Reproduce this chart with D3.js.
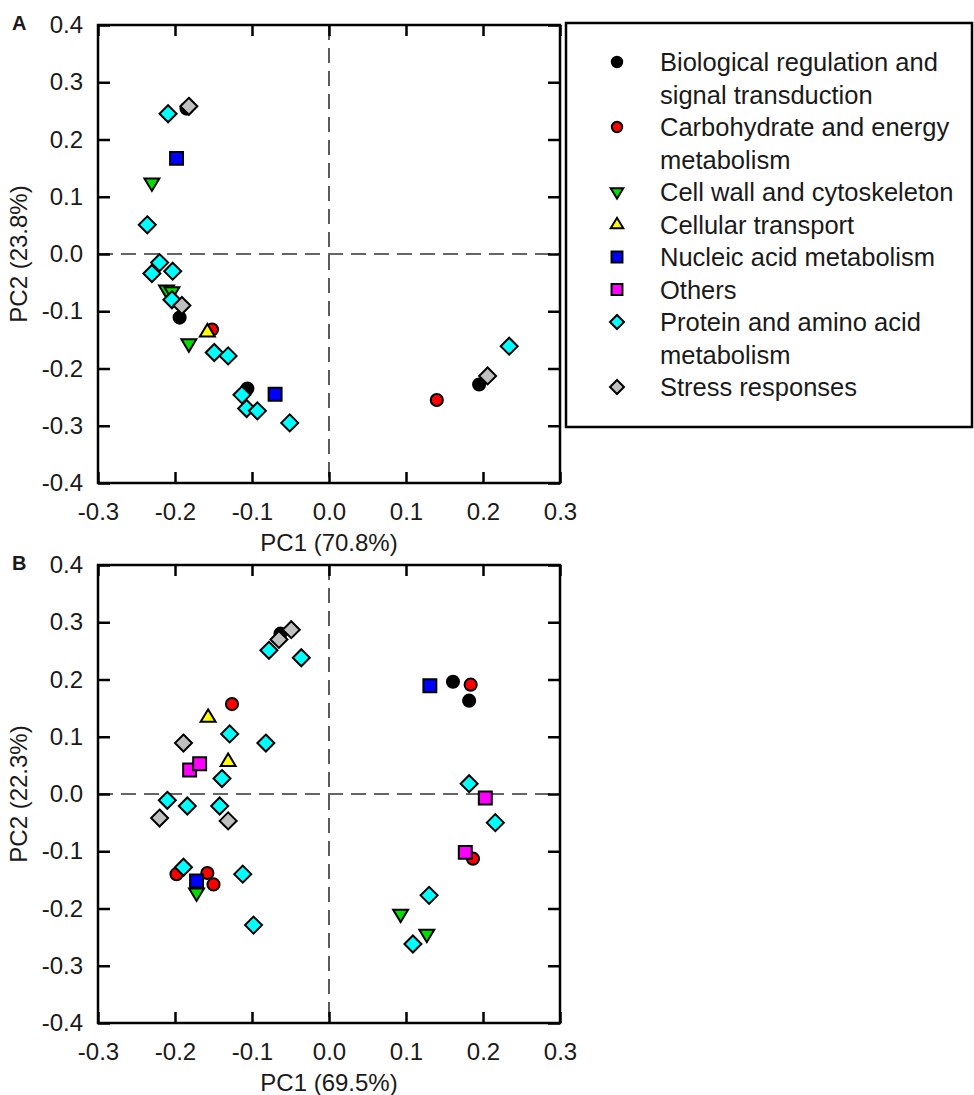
<!DOCTYPE html>
<html><head><meta charset="utf-8">
<script src="https://cdn.jsdelivr.net/npm/d3@7"></script>
<style>
body{margin:0;background:#fff;}
text{font-family:"Liberation Sans",Arial,sans-serif;fill:#1a1a1a;}
</style></head>
<body><svg id="c" width="974" height="1095"></svg>
<script>
// ---------- DATA ----------
const categories = ["Biological regulation and signal transduction","Carbohydrate and energy metabolism","Cell wall and cytoskeleton","Cellular transport","Nucleic acid metabolism","Others","Protein and amino acid metabolism","Stress responses"];
const legendLines = [["Biological regulation and","signal transduction"],["Carbohydrate and energy","metabolism"],["Cell wall and cytoskeleton"],["Cellular transport"],["Nucleic acid metabolism"],["Others"],["Protein and amino acid","metabolism"],["Stress responses"]];
const shapes = ["circle","circle","triDown","triUp","square","square","diamond","diamond"];
const colors = ["#000000","#ff0000","#00e000","#ffff00","#0000ff","#ff00ff","#00ffff","#c0c0c0"];
const tickValues = [-0.4,-0.3,-0.2,-0.1,0.0,0.1,0.2,0.3,0.4];
const xTickValues = [-0.3,-0.2,-0.1,0.0,0.1,0.2,0.3];

// Panel A
const aBio = [[-0.185,0.254],[-0.194,-0.111],[-0.106,-0.235],[0.195,-0.228]];
const aCarb = [[-0.152,-0.132],[0.140,-0.255]];
const aWall = [[-0.230,0.124],[-0.211,-0.063],[-0.204,-0.066],[-0.182,-0.157]];
const aTrans = [[-0.158,-0.136]];
const aNuc = [[-0.198,0.167],[-0.070,-0.245]];
const aOth = [];
const aProt = [[-0.209,0.245],[-0.236,0.051],[-0.220,-0.015],[-0.230,-0.034],[-0.203,-0.030],[-0.204,-0.080],[-0.149,-0.172],[-0.131,-0.178],[-0.113,-0.246],[-0.107,-0.270],[-0.093,-0.274],[-0.051,-0.295],[0.234,-0.161]];
const aStress = [[-0.182,0.258],[-0.191,-0.090],[0.206,-0.213]];

// Panel B
const bBio = [[-0.063,0.280],[0.161,0.196],[0.182,0.163]];
const bCarb = [[-0.126,0.157],[-0.198,-0.140],[-0.158,-0.138],[-0.150,-0.158],[0.184,0.191],[0.187,-0.113]];
const bWall = [[-0.172,-0.173],[0.093,-0.210],[0.127,-0.245]];
const bTrans = [[-0.157,0.134],[-0.131,0.057]];
const bNuc = [[-0.172,-0.152],[0.131,0.189]];
const bOth = [[-0.181,0.042],[-0.168,0.053],[0.203,-0.007],[0.177,-0.102]];
const bProt = [[-0.078,0.251],[-0.036,0.238],[-0.129,0.105],[-0.082,0.089],[-0.139,0.027],[-0.210,-0.011],[-0.184,-0.021],[-0.142,-0.021],[-0.189,-0.128],[-0.112,-0.140],[-0.098,-0.229],[0.182,0.018],[0.216,-0.050],[0.130,-0.177],[0.109,-0.262]];
const bStress = [[-0.049,0.287],[-0.065,0.270],[-0.189,0.089],[-0.220,-0.042],[-0.131,-0.047]];

const panels = [
  {label:"A", top:25, xTitle:"PC1 (70.8%)", yTitle:"PC2 (23.8%)", series:[aBio,aCarb,aWall,aTrans,aNuc,aOth,aProt,aStress]},
  {label:"B", top:565, xTitle:"PC1 (69.5%)", yTitle:"PC2 (22.3%)", series:[bBio,bCarb,bWall,bTrans,bNuc,bOth,bProt,bStress]}
];

// ---------- DRAW ----------
const svg = d3.select("#c");
const left = 98, W = 462, H = 458;
const fmt = v => (v < 0 ? "-" : "") + Math.abs(v).toFixed(1);

function shapePath(shape, s){
  switch(shape){
    case "circle": return d3.symbol(d3.symbolCircle, Math.PI*s*s*0.55)();
    case "square": { const h=s*0.78; return `M${-h},${-h}H${h}V${h}H${-h}Z`; }
    case "diamond": return `M0,${-s}L${s},0L0,${s}L${-s},0Z`;
    case "triDown": { const w=s*0.9, t=s*0.55, b=s*0.95; return `M${-w},${-t}L${w},${-t}L0,${b}Z`; }
    case "triUp": { const w=s*0.9, t=s*0.55, b=s*0.95; return `M${-w},${t}L${w},${t}L0,${-b}Z`; }
  }
}

panels.forEach(p => {
  const x = d3.scaleLinear().domain([-0.3,0.3]).range([left,left+W]);
  const y = d3.scaleLinear().domain([-0.4,0.4]).range([p.top+H,p.top]);
  const g = svg.append("g");

  // dashed zero lines
  g.append("line").attr("x1",x(-0.3)).attr("x2",x(0.3)).attr("y1",y(0)).attr("y2",y(0))
    .attr("stroke","#333").attr("stroke-width",1.6).attr("stroke-dasharray","15,8");
  g.append("line").attr("x1",x(0)).attr("x2",x(0)).attr("y1",y(0.4)).attr("y2",y(-0.4))
    .attr("stroke","#333").attr("stroke-width",1.6).attr("stroke-dasharray","15,8");

  // axes with inward ticks
  const axL = d3.axisLeft(y).tickValues(tickValues).tickSize(-12).tickFormat(fmt).tickPadding(16);
  const axR = d3.axisRight(y).tickValues(tickValues).tickSize(-12).tickFormat("");
  const axB = d3.axisBottom(x).tickValues(xTickValues).tickSize(-11).tickFormat(fmt).tickPadding(20);
  const axT = d3.axisTop(x).tickValues(xTickValues).tickSize(-11).tickFormat("");
  const gl = g.append("g").attr("transform",`translate(${left},0)`).call(axL);
  const gr = g.append("g").attr("transform",`translate(${left+W},0)`).call(axR);
  const gb = g.append("g").attr("transform",`translate(0,${p.top+H})`).call(axB);
  const gt = g.append("g").attr("transform",`translate(0,${p.top})`).call(axT);
  [gl,gr,gb,gt].forEach(a=>{
    a.select(".domain").remove();
    a.selectAll(".tick line").attr("stroke","#000").attr("stroke-width",2.5);
    a.selectAll("text").attr("font-size",24).attr("fill","#1a1a1a").style("font-family","'Liberation Sans',Arial,sans-serif");
  });
  gl.selectAll("text").attr("x",-15);
  gb.selectAll("text").attr("y",20);

  g.append("rect").attr("x",left).attr("y",p.top).attr("width",W).attr("height",H)
    .attr("fill","none").attr("stroke","#000").attr("stroke-width",2.5);

  // titles
  g.append("text").attr("x",left+W/2).attr("y",p.top+H+68).attr("text-anchor","middle")
    .attr("font-size",24).text(p.xTitle);
  g.append("text").attr("transform",`translate(27,${y(0)}) rotate(-90)`).attr("text-anchor","middle")
    .attr("font-size",24).text(p.yTitle);
  g.append("text").attr("x",12).attr("y",p.top+5).attr("font-size",20).attr("font-weight","bold")
    .attr("fill","#000").text(p.label);

  // points
  p.series.forEach((pts,i)=>{
    const sz = shapes[i]==="diamond" ? 8.5 : (shapes[i]==="circle" ? 8.2 : 8.3);
    g.append("g").selectAll("path").data(pts).join("path")
      .attr("transform",d=>`translate(${x(d[0])},${y(d[1])})`)
      .attr("d",shapePath(shapes[i],sz))
      .attr("fill",colors[i]).attr("stroke","#000").attr("stroke-width",2);
  });
});

// legend
const lg = svg.append("g");
lg.append("rect").attr("x",566).attr("y",23).attr("width",406).attr("height",404)
  .attr("fill","none").attr("stroke","#000").attr("stroke-width",2.5);
let ly = 62;
categories.forEach((c,i)=>{
  lg.append("path").attr("transform",`translate(617,${ly})`)
    .attr("d",shapePath(shapes[i], 7))
    .attr("fill",colors[i]).attr("stroke","#000").attr("stroke-width",2);
  legendLines[i].forEach((t,j)=>{
    lg.append("text").attr("x",660).attr("y",ly + j*32.5).attr("dy","0.36em")
      .attr("font-size",25.5).text(t);
  });
  ly += legendLines[i].length*32.5;
});
</script></body></html>
